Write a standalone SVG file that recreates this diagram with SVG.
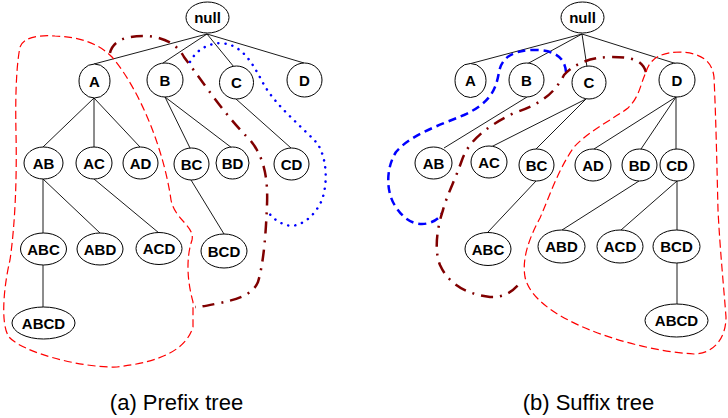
<svg xmlns="http://www.w3.org/2000/svg" width="728" height="418" viewBox="0 0 728 418">
<style>
.n ellipse{fill:#fff;stroke:#000;stroke-width:1}
.n text{font-family:"Liberation Sans",Arial,sans-serif;font-weight:bold;font-size:15px;text-anchor:middle;fill:#000}
.e line{stroke:#000;stroke-width:0.9}
.cap{font-family:"Liberation Sans",Arial,sans-serif;font-size:22px;text-anchor:middle;fill:#000}
.red{fill:none;stroke:#ff0000;stroke-width:1.2;stroke-dasharray:8,4}
.dr{fill:none;stroke:#800000;stroke-width:2.5;stroke-dasharray:12,7,2,7}
.bdot{fill:none;stroke:#0000ff;stroke-width:2.5;stroke-dasharray:0.1,7;stroke-linecap:round}
.bdash{fill:none;stroke:#0000ff;stroke-width:2.5;stroke-dasharray:8,5}
</style>
<g id="connectors" class="e">
<line x1="207" y1="34" x2="94" y2="64"/>
<line x1="207" y1="34" x2="163" y2="63"/>
<line x1="207" y1="34" x2="234" y2="67"/>
<line x1="207" y1="34" x2="304" y2="63"/>
<line x1="94" y1="98" x2="43" y2="147"/>
<line x1="94" y1="98" x2="94" y2="147"/>
<line x1="94" y1="98" x2="140" y2="147"/>
<line x1="165" y1="97" x2="190" y2="148"/>
<line x1="165" y1="97" x2="232" y2="148"/>
<line x1="236" y1="99" x2="291" y2="148"/>
<line x1="43" y1="179" x2="43" y2="233"/>
<line x1="43" y1="179" x2="100" y2="233"/>
<line x1="94" y1="179" x2="159" y2="233"/>
<line x1="191" y1="180" x2="224" y2="234"/>
<line x1="43" y1="265" x2="43" y2="307"/>
<line x1="582" y1="34" x2="469" y2="64"/>
<line x1="582" y1="34" x2="527" y2="64"/>
<line x1="582" y1="34" x2="587" y2="67"/>
<line x1="582" y1="34" x2="677" y2="64"/>
<line x1="527" y1="97" x2="444" y2="148"/>
<line x1="586" y1="99" x2="491" y2="147"/>
<line x1="586" y1="99" x2="536" y2="149"/>
<line x1="676" y1="97" x2="594" y2="149"/>
<line x1="676" y1="97" x2="641" y2="149"/>
<line x1="676" y1="97" x2="676" y2="149"/>
<line x1="536" y1="181" x2="488" y2="232"/>
<line x1="639" y1="181" x2="562" y2="230"/>
<line x1="677" y1="181" x2="621" y2="230"/>
<line x1="677" y1="181" x2="677" y2="230"/>
<line x1="677" y1="263" x2="677" y2="304"/>
</g>
<g id="curves">
<path class="red" d="M20,47 C24,36 42,35 55,36 C78,37 97,42 112,57 C140,90 164,150 171,200 C175,220 195,226 192,240 C186,258 187,280 193,302 L193,327 C186,350 160,362 117,367 C80,368 22,352 9,337 C0,324 4,285 10,260 C15,225 17,180 16,133 C15,90 17,62 20,47"/>
<path class="dr" d="M110,53 C113,40 127,36 143,36 C160,36 176,42 184,57 C205,85 225,115 250,140 C265,158 268,180 267,205 C266,230 264,262 258,282 C252,296 235,300 215,304 C205,306 200,307 195,307"/>
<path class="bdot" d="M190,62 C195,52 205,44 220,43 C240,44 250,58 263,83 C275,105 300,125 317,143 C327,158 328,182 322,200 C315,215 305,224 292,226 C282,225 274,220 269,213"/>
<path class="bdash" d="M566,72 C565,58 555,50 535,50 C515,50 502,56 499,72 C496,90 490,103 464,115 C440,125 410,135 396,152 C386,168 386,190 394,204 C402,218 412,224 422,224 C432,224 440,218 442,213"/>
<path class="dr" d="M646,72 C642,60 632,57 612,57 C590,57 574,64 564,75 C556,90 545,103 514,113 C490,125 470,138 462,160 C455,180 447,195 443,210 C437,228 434,250 440,265 C448,283 465,294 490,297 C503,298 512,292 519,284"/>
<path class="red" d="M646,72 C650,58 662,52 680,52 C700,53 712,60 714,77 C716,120 717,170 718,210 C720,250 724,290 726,317 C726,340 712,354 694,354 C660,352 620,342 590,330 C560,318 530,300 525,277 C522,260 528,240 540,218 C550,195 558,170 574,147 C590,130 615,118 628,108 C640,96 640,85 646,72"/>
</g>
<g id="null_a" class="n"><ellipse cx="207.5" cy="17.5" rx="21.5" ry="15.5"/><text x="207.5" y="22.5">null</text></g>
<g id="A_a" class="n"><ellipse cx="94.5" cy="81" rx="15.5" ry="17"/><text x="94.5" y="86.5">A</text></g>
<g id="B_a" class="n"><ellipse cx="165" cy="80" rx="18" ry="17"/><text x="165" y="85.5">B</text></g>
<g id="C_a" class="n"><ellipse cx="236.5" cy="82.5" rx="17" ry="16.5"/><text x="236.5" y="88">C</text></g>
<g id="D_a" class="n"><ellipse cx="304.5" cy="80" rx="17.5" ry="17"/><text x="304.5" y="85.5">D</text></g>
<g id="AB_a" class="n"><ellipse cx="43.5" cy="163" rx="19.5" ry="16"/><text x="43.5" y="168.5">AB</text></g>
<g id="AC_a" class="n"><ellipse cx="94" cy="163" rx="18" ry="16"/><text x="94" y="168.5">AC</text></g>
<g id="AD_a" class="n"><ellipse cx="140.5" cy="163" rx="17.5" ry="16"/><text x="140.5" y="168.5">AD</text></g>
<g id="BC_a" class="n"><ellipse cx="191.5" cy="164" rx="17.5" ry="16"/><text x="191.5" y="169.5">BC</text></g>
<g id="BD_a" class="n"><ellipse cx="232.5" cy="163" rx="16.5" ry="16"/><text x="232.5" y="168.5">BD</text></g>
<g id="CD_a" class="n"><ellipse cx="291.5" cy="164" rx="17.5" ry="16"/><text x="291.5" y="169.5">CD</text></g>
<g id="ABC_a" class="n"><ellipse cx="43.5" cy="249" rx="23" ry="16"/><text x="43.5" y="254.5">ABC</text></g>
<g id="ABD_a" class="n"><ellipse cx="100" cy="249" rx="23" ry="16"/><text x="100" y="254.5">ABD</text></g>
<g id="ACD_a" class="n"><ellipse cx="159" cy="248.5" rx="23" ry="16"/><text x="159" y="254">ACD</text></g>
<g id="BCD_a" class="n"><ellipse cx="224" cy="251" rx="23" ry="17"/><text x="224" y="256.5">BCD</text></g>
<g id="ABCD_a" class="n"><ellipse cx="43.5" cy="323" rx="31.5" ry="16"/><text x="43.5" y="328.5">ABCD</text></g>
<g id="null_b" class="n"><ellipse cx="582.5" cy="17.5" rx="21.5" ry="15.5"/><text x="582.5" y="22.5">null</text></g>
<g id="A_b" class="n"><ellipse cx="470.5" cy="80.5" rx="15.5" ry="17"/><text x="470.5" y="86">A</text></g>
<g id="B_b" class="n"><ellipse cx="526.5" cy="80" rx="17.5" ry="17"/><text x="526.5" y="85.5">B</text></g>
<g id="C_b" class="n"><ellipse cx="589" cy="82.5" rx="17" ry="16.5"/><text x="589" y="88">C</text></g>
<g id="D_b" class="n"><ellipse cx="677" cy="80" rx="18" ry="17"/><text x="677" y="85.5">D</text></g>
<g id="AB_b" class="n"><ellipse cx="433.5" cy="163" rx="18.5" ry="16"/><text x="433.5" y="168.5">AB</text></g>
<g id="AC_b" class="n"><ellipse cx="489" cy="162" rx="18" ry="16"/><text x="489" y="167.5">AC</text></g>
<g id="BC_b" class="n"><ellipse cx="536.5" cy="165" rx="17.5" ry="16"/><text x="536.5" y="170.5">BC</text></g>
<g id="AD_b" class="n"><ellipse cx="593" cy="165" rx="18" ry="16"/><text x="593" y="170.5">AD</text></g>
<g id="BD_b" class="n"><ellipse cx="639.5" cy="165" rx="17.5" ry="16"/><text x="639.5" y="170.5">BD</text></g>
<g id="CD_b" class="n"><ellipse cx="677" cy="165" rx="17" ry="16"/><text x="677" y="170.5">CD</text></g>
<g id="ABC_b" class="n"><ellipse cx="488" cy="249" rx="23" ry="16.5"/><text x="488" y="254.5">ABC</text></g>
<g id="ABD_b" class="n"><ellipse cx="561.5" cy="246.5" rx="23.5" ry="16.5"/><text x="561.5" y="252">ABD</text></g>
<g id="ACD_b" class="n"><ellipse cx="620" cy="246.5" rx="23" ry="16.5"/><text x="620" y="252">ACD</text></g>
<g id="BCD_b" class="n"><ellipse cx="676.5" cy="246.5" rx="23.5" ry="16.5"/><text x="676.5" y="252">BCD</text></g>
<g id="ABCD_b" class="n"><ellipse cx="676.5" cy="320.5" rx="31.5" ry="16.5"/><text x="676.5" y="326">ABCD</text></g>
<text class="cap" x="176.5" y="410">(a) Prefix tree</text>
<text class="cap" x="588.5" y="410">(b) Suffix tree</text>
</svg>
